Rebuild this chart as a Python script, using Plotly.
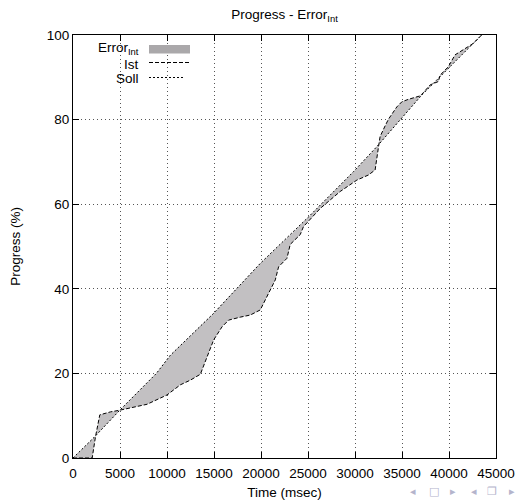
import plotly.graph_objects as go

# ---- data ----
soll_t = [0, 2210, 4975, 8870, 10360, 14960, 19920, 23110, 25060, 29840, 32320, 37100, 43470]
soll_p = [0, 4.8, 11.3, 20.0, 24.3, 34.2, 46.0, 52.7, 57.0, 67.7, 73.6, 85.8, 100]

ist_t = [0, 2040, 2390, 2850, 3985, 4975, 7880, 10000, 11420, 12480, 13550, 14960, 15850,
         16560, 17800, 18860, 19920, 20630, 21520, 21870, 22760, 23110, 24170, 24520, 26300,
         28420, 30200, 31430, 32140, 32490, 32670, 33200, 33560, 34450, 34980, 35690, 36920,
         37280, 37990, 38870, 39050, 39580, 39930, 40640, 41520, 42580, 43470]
ist_p = [0, 0, 5.0, 10.2, 10.9, 11.3, 12.7, 14.9, 17.3, 18.4, 19.8, 27.9, 31.0,
         32.6, 33.3, 33.8, 35.0, 38.1, 42.1, 45.2, 47.2, 50.5, 52.8, 54.7, 59.0,
         63.0, 65.7, 66.9, 68.1, 73.4, 76.0, 78.5, 80.1, 83.0, 84.2, 84.8, 85.6,
         86.4, 88.2, 89.0, 90.5, 91.7, 92.5, 95.3, 96.5, 98.0, 100]

x_ticks = [0, 5000, 10000, 15000, 20000, 25000, 30000, 35000, 40000, 45000]
y_ticks = [0, 20, 40, 60, 80, 100]

nav_glyphs = ["◂", "□", "▸", "◂", "❐", "▸"]

FONT = "Liberation Sans, Arial, sans-serif"
FILL = "#c2c0c2"

fig = go.Figure()

fig.add_trace(go.Scatter(
    x=soll_t + ist_t[::-1], y=soll_p + ist_p[::-1],
    fill="toself", fillcolor=FILL, mode="none", hoverinfo="skip", showlegend=False))
fig.add_trace(go.Scatter(
    x=soll_t, y=soll_p, mode="lines", name="Soll",
    line=dict(color="black", width=1, dash="2px,2px"), showlegend=False))
fig.add_trace(go.Scatter(
    x=ist_t, y=ist_p, mode="lines", name="Ist",
    line=dict(color="black", width=1, dash="4px,2px"), showlegend=False))

axis_common = dict(
    automargin=False,
    showline=True, linecolor="black", linewidth=1, mirror="ticks",
    ticks="inside", ticklen=6, tickcolor="black", tickwidth=1,
    showgrid=True, gridcolor="#555555", griddash="1px,3px", gridwidth=1,
    zeroline=False, tickfont=dict(family=FONT, size=13.5, color="black"),
)

fig.update_xaxes(range=[0, 45000], tickvals=x_ticks, ticktext=[str(v) for v in x_ticks],
                 ticklabelstandoff=3,
                 title=dict(text="Time (msec)", font=dict(family=FONT, size=13.5, color="black"),
                            standoff=7),
                 **axis_common)
fig.update_yaxes(range=[0, 100], tickvals=y_ticks, ticktext=[str(v) for v in y_ticks],
                 title=dict(text="Progress (%)", font=dict(family=FONT, size=13.5, color="black"),
                            standoff=23),
                 **axis_common)

# legend (gnuplot style: text left, key right)
def px_x(px):
    return (px - 73) / 423.0
def px_y(py):
    return (458 - py) / 423.0

annotations = [
    dict(text="Error<sub>Int</sub>", x=px_x(141), y=px_y(48.5), xref="paper", yref="paper",
         xanchor="right", yanchor="middle", showarrow=False,
         font=dict(family=FONT, size=13.5, color="black")),
    dict(text="Ist", x=px_x(141), y=px_y(64), xref="paper", yref="paper",
         xanchor="right", yanchor="middle", showarrow=False,
         font=dict(family=FONT, size=13.5, color="black")),
    dict(text="Soll", x=px_x(141), y=px_y(78.5), xref="paper", yref="paper",
         xanchor="right", yanchor="middle", showarrow=False,
         font=dict(family=FONT, size=13.5, color="black")),
]
nav_px = [413, 434, 453, 474, 492, 512]
for g, p in zip(nav_glyphs, nav_px):
    annotations.append(dict(text=g, x=px_x(p), y=px_y(491), xref="paper", yref="paper",
                            xanchor="center", yanchor="middle", showarrow=False,
                            font=dict(family="DejaVu Sans", size=11, color="#b4b4cc")))

shapes = [
    dict(type="rect", xref="paper", yref="paper", x0=px_x(149), x1=px_x(190),
         y0=px_y(53.5), y1=px_y(45), fillcolor="#aaa8aa", line=dict(width=0)),
    dict(type="line", xref="paper", yref="paper", x0=px_x(149), x1=px_x(190),
         y0=px_y(62.5), y1=px_y(62.5), line=dict(color="black", width=1, dash="4px,2px")),
    dict(type="line", xref="paper", yref="paper", x0=px_x(149), x1=px_x(183),
         y0=px_y(77.5), y1=px_y(77.5), line=dict(color="black", width=1, dash="2px,2px")),
]

fig.update_layout(
    width=519, height=501,
    margin=dict(l=73, r=23, t=35, b=43),
    paper_bgcolor="white", plot_bgcolor="white",
    title=dict(text="Progress - Error<sub>Int</sub>", x=(73 + 496) / 2 / 519, xanchor="center",
               y=1 - 14 / 501, yanchor="middle",
               font=dict(family=FONT, size=13.5, color="black")),
    annotations=annotations, shapes=shapes, showlegend=False,
)

fig.write_html("out.html")
